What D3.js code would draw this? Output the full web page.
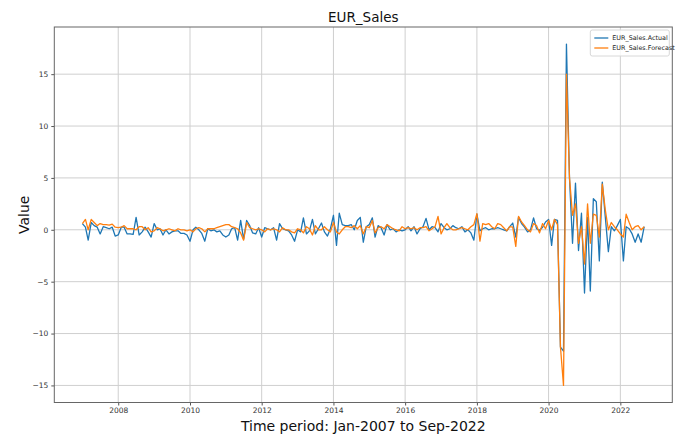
<!DOCTYPE html>
<html>
<head>
<meta charset="utf-8">
<script src="https://cdn.jsdelivr.net/npm/d3@7"></script>
<style>
  html, body { margin: 0; padding: 0; background: #fff; }
  svg { display: block; font-family: "DejaVu Sans", sans-serif; }
</style>
</head>
<body>
<svg id="chart" width="681" height="436"></svg>
<script>
// Monthly series, Jan 2007 .. Sep 2022
const startMonth = "2007-01-01";
const endMonth = "2022-09-01";

const actual = [
  // 2007
  0.6, 0.25, -1.0, 0.7, 0.4, 0.25, -0.4, 0.3, 0.2, 0.1, 0.25, -0.6,
  // 2008
  -0.5, 0.25, 0.25, -0.4, -0.4, -0.45, 1.2, -0.5, -0.2, 0.25, -0.2, -0.7,
  // 2009
  0.6, 0.0, 0.1, -0.5, 0.0, -0.4, -0.2, -0.1, -0.1, -0.35, -0.35, -0.5,
  // 2010
  -1.1, 0.0, 0.25, 0.0, -0.35, -1.1, 0.1, -0.1, 0.0, -0.2, -0.1, -0.5,
  // 2011
  -0.7, -0.5, 0.1, 0.2, -1.0, 0.9, -0.9, 0.9, 0.4, -0.3, -0.4, 0.2,
  // 2012
  -0.7, 0.2, 0.1, 0.0, 0.2, -1.0, 0.6, 0.1, 0.0, -0.1, -0.5, -1.1,
  // 2013
  0.0, -0.2, 1.15, -0.4, -0.1, 1.0, -0.4, 0.1, 0.65, -0.2, -0.6, 0.1,
  // 2014
  1.4, -1.5, 1.6, 0.5, 0.4, 0.4, 0.5, 0.0, 0.9, 1.2, -1.2, 0.3,
  // 2015
  0.5, 1.15, -0.7, 0.4, 0.2, -0.5, 0.5, 0.0, 0.1, -0.2, 0.0, -0.1,
  // 2016
  0.0, 0.3, -0.1, 0.3, -0.4, 0.1, 0.3, 1.1, 0.0, 0.3, 0.2, -0.2,
  // 2017
  0.6, 0.2, 0.0, 0.1, 0.4, 0.2, 0.1, 0.3, -0.2, 0.0, -0.3, -1.0,
  // 2018
  1.5, -0.1, 0.1, 0.2, 0.0, 0.1, 0.1, 0.2, 0.1, 0.0, -0.1, 0.3,
  // 2019
  0.65, -0.7, 1.2, 0.6, 0.25, -0.2, 0.0, 1.15, 0.1, -0.05, 0.25, 0.75,
  // 2020
  1.0, -1.5, 1.0, 0.9, -11.3, -11.7, 17.9, 5.0, -1.3, 4.5, -2.0, 1.6,
  // 2021
  -6.1, 1.2, -5.9, 3.0, 2.7, -3.0, 4.6, 1.2, -2.1, 0.3, -0.1, 0.4,
  // 2022
  1.0, -3.0, 0.3, 0.1, -0.4, -1.2, -0.4, -1.2, 0.3
];

const forecast = [
  // 2007
  0.6, 1.0, 0.0, 1.0, 0.7, 0.4, 0.6, 0.5, 0.5, 0.45, 0.55, 0.25,
  // 2008
  0.2, 0.25, 0.4, 0.1, 0.1, 0.1, 0.0, 0.3, 0.3, 0.0, 0.2, -0.2,
  // 2009
  -0.1, 0.2, 0.1, -0.1, 0.0, 0.1, 0.0, -0.1, 0.1, 0.0, 0.0, -0.1,
  // 2010
  0.0, -0.2, 0.1, 0.2, 0.1, -0.2, 0.1, 0.1, 0.1, 0.2, 0.3, 0.4,
  // 2011
  0.5, 0.5, 0.3, 0.2, 0.1, -0.3, -1.0, 0.7, 0.2, 0.1, 0.0, 0.1,
  // 2012
  0.0, -0.2, 0.1, 0.0, 0.1, 0.0, -0.2, 0.2, 0.0, 0.0, -0.2, -0.3,
  // 2013
  0.1, 0.0, -0.3, 0.3, 0.1, -0.5, 0.4, 0.0, 0.0, 0.3, 0.0, -0.2,
  // 2014
  0.7, -0.2, -0.4, 0.0, 0.3, 0.3, 0.2, 0.4, 0.1, 0.4, -0.4, 0.3,
  // 2015
  0.2, 0.9, -0.3, 0.2, 0.3, 0.1, 0.5, 0.3, 0.1, 0.0, -0.1, 0.3,
  // 2016
  0.1, 0.2, 0.1, 0.2, 0.0, 0.2, 0.2, 0.3, -0.1, 0.1, 0.3, 1.3,
  // 2017
  -0.4, 0.2, 0.6, 0.2, 0.0, 0.0, 0.1, 0.2, 0.1, 0.0, 0.3, 0.5,
  // 2018
  1.55, -1.1, 0.6, 0.5, 0.6, 0.3, 0.1, 0.6, 0.5, 0.2, -0.1, 0.3,
  // 2019
  0.25, -1.6, 1.3, 0.75, 0.4, 0.0, -0.2, 0.6, 0.4, -0.3, 0.6, 0.1,
  // 2020
  0.9, 0.0, 1.0, 0.5, -11.3, -15.0, 15.0, 5.0, 1.4, 2.5, -1.3, 0.3,
  // 2021
  -3.3, 2.5, -1.3, 1.5, 1.4, -0.7, 4.4, 1.9, 0.0, 0.7, 0.3, 0.0,
  // 2022
  -0.4, -0.7, 1.5, 0.7, 0.0, 0.3, 0.4, 0.0, 0.3
];

const yTickValues = [-15, -10, -5, 0, 5, 10, 15];
const xTickYears = [2008, 2010, 2012, 2014, 2016, 2018, 2020, 2022];
const seriesNames = ["EUR_Sales.Actual", "EUR_Sales.Forecast"];
const seriesColors = ["#1f77b4", "#ff7f0e"];

const months = d3.utcMonth.range(new Date(startMonth), d3.utcMonth.offset(new Date(endMonth), 1));
const rows = months.map((d, i) => ({ date: d, actual: actual[i], forecast: forecast[i] }));

const svg = d3.select("#chart");
const W = 681, H = 436;
const margin = { left: 54.3, right: W - 672.3, top: 27, bottom: H - 402.5 };
const iw = W - margin.left - margin.right;
const ih = H - margin.top - margin.bottom;

// 5% padding on both axes, like matplotlib autoscale margins
const t0 = +months[0], t1 = +months[months.length - 1];
const tpad = (t1 - t0) * 0.05;
const x = d3.scaleUtc().domain([new Date(t0 - tpad), new Date(t1 + tpad)]).range([0, iw]);

const allVals = actual.concat(forecast);
const ymin = d3.min(allVals), ymax = d3.max(allVals);
const ypad = (ymax - ymin) * 0.05;
const y = d3.scaleLinear().domain([ymin - ypad, ymax + ypad]).range([ih, 0]);

const g = svg.append("g").attr("transform", `translate(${margin.left},${margin.top})`);

const xTicks = xTickYears.map(yr => new Date(Date.UTC(yr, 0, 1)));

// grid
g.append("g").selectAll("line").data(xTicks).join("line")
  .attr("x1", d => x(d)).attr("x2", d => x(d))
  .attr("y1", 0).attr("y2", ih)
  .attr("stroke", "#cfcfcf").attr("stroke-width", 1);
g.append("g").selectAll("line").data(yTickValues).join("line")
  .attr("x1", 0).attr("x2", iw)
  .attr("y1", d => y(d)).attr("y2", d => y(d))
  .attr("stroke", "#cfcfcf").attr("stroke-width", 1);

// axes
const fmtMinus = d => (d < 0 ? "\u2212" + Math.abs(d) : String(d));
const xAxis = d3.axisBottom(x).tickValues(xTicks).tickFormat(d3.utcFormat("%Y")).tickSize(3).tickPadding(2);
const yAxis = d3.axisLeft(y).tickValues(yTickValues).tickFormat(fmtMinus).tickSize(3).tickPadding(3);

const gx = g.append("g").attr("transform", `translate(0,${ih})`).call(xAxis);
const gy = g.append("g").call(yAxis);
[gx, gy].forEach(a => {
  a.select(".domain").remove();
  a.selectAll(".tick line").attr("stroke", "#555");
  a.selectAll(".tick text").attr("fill", "#333").style("font-size", "7.5px").style("font-family", "DejaVu Sans, sans-serif");
});

// lines
const line = key => d3.line().x(d => x(d.date)).y(d => y(d[key]));
["actual", "forecast"].forEach((k, i) => {
  g.append("path").datum(rows)
    .attr("fill", "none")
    .attr("stroke", seriesColors[i])
    .attr("stroke-width", 1.3)
    .attr("stroke-linejoin", "round")
    .attr("d", line(k));
});

// frame
g.append("rect").attr("x", 0).attr("y", 0).attr("width", iw).attr("height", ih)
  .attr("fill", "none").attr("stroke", "#666").attr("stroke-width", 1);

// legend
const lg = g.append("g").attr("transform", `translate(${iw - 82},3)`);
lg.append("rect").attr("width", 79).attr("height", 26).attr("rx", 2)
  .attr("fill", "#fff").attr("fill-opacity", 0.85).attr("stroke", "#d8d8d8");
seriesNames.forEach((name, i) => {
  const yy = 8 + i * 10;
  lg.append("line").attr("x1", 4).attr("x2", 18).attr("y1", yy).attr("y2", yy)
    .attr("stroke", seriesColors[i]).attr("stroke-width", 1.3);
  lg.append("text").attr("x", 22).attr("y", yy).attr("dy", "0.35em")
    .style("font-size", "6.4px").attr("fill", "#222").text(name);
});

// titles
svg.append("text").attr("x", margin.left + iw / 2).attr("y", 22)
  .attr("text-anchor", "middle").style("font-size", "13.5px").attr("fill", "#111").text("EUR_Sales");
svg.append("text").attr("transform", `translate(29,${margin.top + ih / 2}) rotate(-90)`)
  .attr("text-anchor", "middle").style("font-size", "14px").attr("fill", "#111").text("Value");
svg.append("text").attr("x", margin.left + iw / 2).attr("y", 431)
  .attr("text-anchor", "middle").style("font-size", "14px").attr("fill", "#111").text("Time period: Jan-2007 to Sep-2022");
</script>
</body>
</html>
